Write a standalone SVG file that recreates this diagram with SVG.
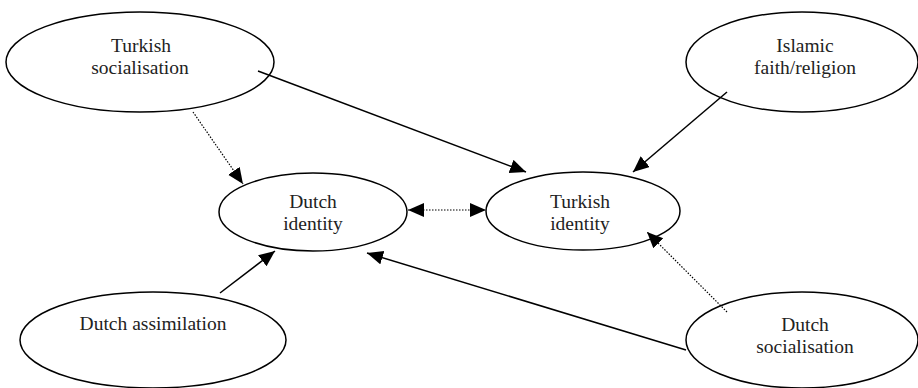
<svg xmlns="http://www.w3.org/2000/svg" width="918" height="388" viewBox="0 0 918 388">
<style>
.node ellipse{fill:#fff;stroke:#000;stroke-width:1.5}
.node text{font-family:"Liberation Serif","Times New Roman",serif;font-size:19.5px;fill:#222;text-anchor:middle}
.solid{stroke:#000;stroke-width:1.5;fill:none}
.dot{stroke:#000;stroke-width:1.2;stroke-dasharray:1.5 1.5;fill:none}
</style>
<defs>
<marker id="ah" markerUnits="userSpaceOnUse" markerWidth="18" markerHeight="16" refX="16" refY="7" orient="auto-start-reverse">
<path d="M0,0 L16,7 L0,14 z" fill="#000"/>
</marker>
</defs>
<rect width="918" height="388" fill="#fff"/>
<g id="n-turkish-socialisation" class="node">
<ellipse cx="140" cy="62" rx="134" ry="50"/>
<text x="141" y="52">Turkish</text>
<text x="140" y="74">socialisation</text>
</g>
<g id="n-islamic" class="node">
<ellipse cx="802" cy="62" rx="116" ry="50"/>
<text x="805" y="52">Islamic</text>
<text x="805" y="74">faith/religion</text>
</g>
<g id="n-dutch-identity" class="node">
<ellipse cx="313" cy="212" rx="94" ry="39"/>
<text x="313" y="208">Dutch</text>
<text x="313" y="230">identity</text>
</g>
<g id="n-turkish-identity" class="node">
<ellipse cx="583" cy="211" rx="97" ry="39"/>
<text x="580" y="208">Turkish</text>
<text x="580" y="230">identity</text>
</g>
<g id="n-dutch-assimilation" class="node">
<ellipse cx="153" cy="340" rx="133" ry="48"/>
<text x="153" y="330">Dutch assimilation</text>
</g>
<g id="n-dutch-socialisation" class="node">
<ellipse cx="802" cy="340" rx="116" ry="48"/>
<text x="805" y="331">Dutch</text>
<text x="805" y="353">socialisation</text>
</g>
<g id="connectors">
<line class="solid" x1="258" y1="71" x2="526" y2="172" marker-end="url(#ah)"/>
<line class="solid" x1="727" y1="92" x2="633" y2="172" marker-end="url(#ah)"/>
<line class="dot" x1="193" y1="112" x2="243" y2="184" marker-end="url(#ah)"/>
<line class="dot" x1="727" y1="312" x2="647" y2="232" marker-end="url(#ah)"/>
<line class="solid" x1="220" y1="293" x2="275" y2="251" marker-end="url(#ah)"/>
<line class="solid" x1="686" y1="350" x2="367" y2="253" marker-end="url(#ah)"/>
<line class="dot" x1="408" y1="210" x2="486" y2="210" marker-start="url(#ah)" marker-end="url(#ah)"/>
</g>
</svg>
